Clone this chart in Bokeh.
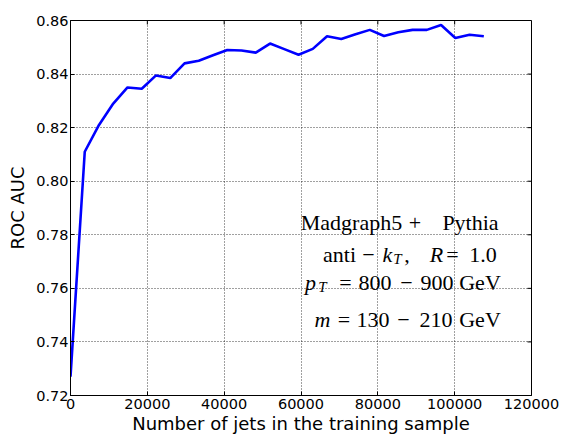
from bokeh.plotting import figure
from bokeh.models import Range1d, FixedTicker, Label, BasicTickFormatter, NumeralTickFormatter
from bokeh.embed import file_html
from bokeh.resources import INLINE

# ---- data ----
n_jets = [0, 3710, 7420, 11130, 14840, 18550, 22260, 25970, 29680, 33390,
          37100, 40810, 44520, 48230, 51940, 55650, 59360, 63070, 66780, 70490,
          74200, 77910, 81620, 85330, 89040, 92750, 96460, 100170, 103880, 107590]
roc_auc = [0.727, 0.811, 0.821, 0.829, 0.835, 0.8345, 0.8395, 0.8385, 0.844, 0.845,
           0.847, 0.849, 0.8488, 0.848, 0.8514, 0.8493, 0.8472, 0.8494, 0.8541, 0.8531,
           0.8549, 0.8565, 0.8542, 0.8556, 0.8565, 0.8565, 0.8583, 0.8535, 0.8547, 0.8541]
x_ticks = [0, 20000, 40000, 60000, 80000, 100000, 120000]
y_ticks = [0.72, 0.74, 0.76, 0.78, 0.80, 0.82, 0.84, 0.86]
x_label = "Number of jets in the training sample"
y_label = "ROC AUC"

# ---- layout ----
X0, X1 = 0, 120000
Y0, Y1 = 0.72, 0.86
FL, FT, FW, FH = 70, 20, 461, 375          # frame left, top, width, height (px)
W, H = 563, 439

def sx(px):   # screen px -> data x
    return X0 + (px - FL) * (X1 - X0) / FW

def sy(py):   # screen px -> data y
    return Y1 - (py - FT) * (Y1 - Y0) / FH

p = figure(width=W, height=H, output_backend="svg", toolbar_location=None,
           x_range=Range1d(X0, X1), y_range=Range1d(Y0, Y1),
           min_border_left=FL, min_border_right=W - FL - FW, min_border_top=FT,
           min_border_bottom=H - FT - FH)

p.line(n_jets, roc_auc, line_color="#0000ff", line_width=2.6)

p.outline_line_color = "black"
p.outline_line_width = 1
p.background_fill_color = "white"
p.border_fill_color = "white"

for ax in (p.xaxis[0], p.yaxis[0]):
    ax.major_tick_in = 4
    ax.major_tick_out = 0
    ax.minor_tick_line_color = None
    ax.axis_line_color = "black"
    ax.major_tick_line_color = "black"
    ax.major_label_text_font = "DejaVu Sans"
    ax.major_label_text_font_size = "14.5px"
    ax.major_label_text_color = "black"
    ax.axis_label_text_font = "DejaVu Sans"
    ax.axis_label_text_font_size = "18px"
    ax.axis_label_text_font_style = "normal"
    ax.axis_label_text_color = "black"

p.xaxis[0].ticker = FixedTicker(ticks=x_ticks)
p.xaxis[0].formatter = BasicTickFormatter(use_scientific=False)
p.xaxis[0].axis_label = x_label
p.xaxis[0].major_label_standoff = 3
p.xaxis[0].axis_label_standoff = 1
p.yaxis[0].ticker = FixedTicker(ticks=y_ticks)
p.yaxis[0].formatter = NumeralTickFormatter(format="0.00")
p.yaxis[0].axis_label = y_label
p.yaxis[0].major_label_standoff = 2
p.yaxis[0].axis_label_standoff = 5

# mirrored inward ticks on top and right frame edges
tick_dy = 4 * (Y1 - Y0) / FH
tick_dx = 4 * (X1 - X0) / FW
p.segment(x0=x_ticks, y0=[Y1] * len(x_ticks), x1=x_ticks, y1=[Y1 - tick_dy] * len(x_ticks),
          line_color="black", line_width=1)
p.segment(x0=[X1] * len(y_ticks), y0=y_ticks, x1=[X1 - tick_dx] * len(y_ticks), y1=y_ticks,
          line_color="black", line_width=1)

p.grid.grid_line_color = "black"
p.grid.grid_line_dash = "1 2"
p.grid.grid_line_width = 1
p.grid.grid_line_alpha = 0.75
p.xgrid[0].ticker = FixedTicker(ticks=x_ticks)
p.ygrid[0].ticker = FixedTicker(ticks=y_ticks)

# ---- annotation (segments: text, left px, right px, style, baseline px, size) ----
FONT = "Liberation Serif"
BIG, SUB = "22px", "15px"
SHIFT = -8   # baseline calibration
segments = [
    ("Madgraph5", 300, 402, "normal", 230, BIG), ("+", 407, 422, "normal", 230, BIG),
    ("Pythia", 438, 502, "normal", 230, BIG),
    ("anti", 323, 355, "normal", 262, BIG), ("\u2212", 359, 377, "normal", 262, BIG),
    ("k", 382, 392, "italic", 262, BIG), ("T", 392, 402, "italic", 266, SUB),
    (",", 405, 408, "normal", 262, BIG), ("R", 429, 443, "italic", 262, BIG),
    ("=", 444, 460, "normal", 262, BIG), ("1.0", 463, 502, "normal", 262, BIG),
    ("p", 303, 317, "italic", 290, BIG), ("T", 317, 327, "italic", 294, SUB),
    ("=", 337, 353, "normal", 290, BIG), ("800", 359, 390, "normal", 290, BIG),
    ("\u2212", 397, 415, "normal", 290, BIG), ("900", 420, 453, "normal", 290, BIG),
    ("GeV", 457, 502, "normal", 290, BIG),
    ("m", 312, 332, "italic", 327, BIG), ("=", 335, 352, "normal", 327, BIG),
    ("130", 357, 388, "normal", 327, BIG), ("\u2212", 393, 413, "normal", 327, BIG),
    ("210", 418, 453, "normal", 327, BIG), ("GeV", 457, 502, "normal", 327, BIG),
]
for txt, pl, pr, style, py, size in segments:
    p.add_layout(Label(x=sx((pl + pr) / 2), y=sy(py + SHIFT), text=txt, text_align="center",
                       text_baseline="alphabetic", text_font=FONT,
                       text_font_size=size, text_font_style=style, text_color="black"))

open("out.html", "w").write(file_html(p, INLINE))
